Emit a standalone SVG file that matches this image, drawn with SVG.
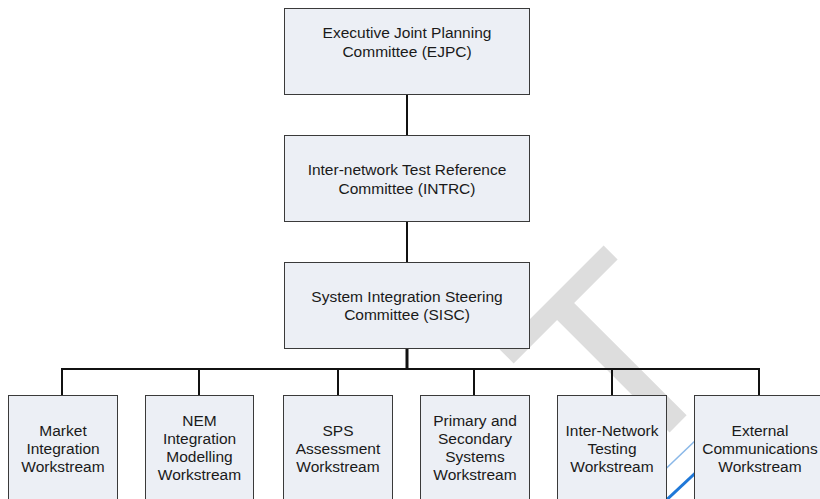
<svg xmlns="http://www.w3.org/2000/svg" width="820" height="499" viewBox="0 0 820 499">
<style>
.box{fill:#eceff5;stroke:#3a3a3a;stroke-width:1}
.lbl{font-family:"Liberation Sans",Arial,sans-serif;font-size:15.5px;fill:#1a1a1a;text-anchor:middle}
.conn{stroke:#111;stroke-width:2;fill:none}
.wm{font-family:"Liberation Sans",Arial,sans-serif;font-size:260px;fill:#dddddd}
</style>
<rect width="820" height="499" fill="#ffffff"/>
<g id="background">
<text class="wm" transform="translate(622,480) rotate(-45)">T</text>
<line x1="630" y1="503" x2="720" y2="417" stroke="#8ab8e8" stroke-width="1.5"/>
<line x1="660" y1="506" x2="720" y2="450" stroke="#1f78d8" stroke-width="3"/>
</g>
<g id="connectors">
<line class="conn" x1="407" y1="94" x2="407" y2="135"/>
<line class="conn" x1="407" y1="221" x2="407" y2="262"/>
<line class="conn" x1="407" y1="348" x2="407" y2="369" style="stroke-width:3"/>
<line class="conn" x1="61" y1="369" x2="760" y2="369"/>
<line class="conn" x1="62" y1="369" x2="62" y2="395"/>
<line class="conn" x1="199" y1="369" x2="199" y2="395"/>
<line class="conn" x1="338" y1="369" x2="338" y2="395"/>
<line class="conn" x1="474" y1="369" x2="474" y2="395"/>
<line class="conn" x1="612" y1="369" x2="612" y2="395"/>
<line class="conn" x1="759" y1="369" x2="759" y2="395"/>
</g>
<g id="ejpc">
<rect class="box" x="284.5" y="8.5" width="245" height="86"/>
<text class="lbl" x="407" y="38">Executive Joint Planning</text>
<text class="lbl" x="407" y="57">Committee (EJPC)</text>
</g>
<g id="intrc">
<rect class="box" x="284.5" y="135.5" width="245" height="86"/>
<text class="lbl" x="407" y="175">Inter-network Test Reference</text>
<text class="lbl" x="407" y="194">Committee (INTRC)</text>
</g>
<g id="sisc">
<rect class="box" x="284.5" y="262.5" width="245" height="86"/>
<text class="lbl" x="407" y="302">System Integration Steering</text>
<text class="lbl" x="407" y="320">Committee (SISC)</text>
</g>
<g id="market">
<rect class="box" x="8.5" y="395.5" width="109" height="120"/>
<text class="lbl" x="63" y="436">Market</text>
<text class="lbl" x="63" y="454">Integration</text>
<text class="lbl" x="63" y="472">Workstream</text>
</g>
<g id="nem">
<rect class="box" x="145.5" y="395.5" width="108" height="120"/>
<text class="lbl" x="199.5" y="426">NEM</text>
<text class="lbl" x="199.5" y="444">Integration</text>
<text class="lbl" x="199.5" y="462">Modelling</text>
<text class="lbl" x="199.5" y="480">Workstream</text>
</g>
<g id="sps">
<rect class="box" x="283.5" y="395.5" width="109" height="120"/>
<text class="lbl" x="338" y="436">SPS</text>
<text class="lbl" x="338" y="454">Assessment</text>
<text class="lbl" x="338" y="472">Workstream</text>
</g>
<g id="primary">
<rect class="box" x="420.5" y="395.5" width="109" height="120"/>
<text class="lbl" x="475" y="426">Primary and</text>
<text class="lbl" x="475" y="444">Secondary</text>
<text class="lbl" x="475" y="462">Systems</text>
<text class="lbl" x="475" y="480">Workstream</text>
</g>
<g id="internetwork">
<rect class="box" x="557.5" y="395.5" width="109" height="120"/>
<text class="lbl" x="612" y="436">Inter-Network</text>
<text class="lbl" x="612" y="454">Testing</text>
<text class="lbl" x="612" y="472">Workstream</text>
</g>
<g id="external">
<rect class="box" x="694.5" y="395.5" width="130" height="120"/>
<text class="lbl" x="760" y="436">External</text>
<text class="lbl" x="760" y="454">Communications</text>
<text class="lbl" x="760" y="472">Workstream</text>
</g>
</svg>
